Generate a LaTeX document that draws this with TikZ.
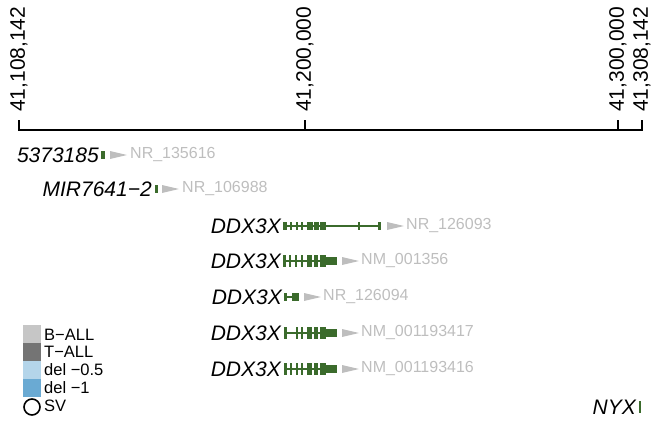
\documentclass[tikz,border=0pt]{standalone}
\usepackage{fontspec}
\setmainfont{Liberation Sans}
\definecolor{genegreen}{HTML}{3B6B2C}
\definecolor{txgrey}{HTML}{BEBEBE}
\definecolor{ballgrey}{HTML}{C6C6C6}
\definecolor{tallgrey}{HTML}{747474}
\definecolor{delhalf}{HTML}{B4D5EA}
\definecolor{delone}{HTML}{6AAAD3}
\tikzset{
  gene/.style={anchor=east,inner sep=1pt,font=\fontsize{21}{23}\selectfont\itshape},
  tx/.style={anchor=west,inner sep=0pt,text=txgrey,font=\fontsize{16}{18}\selectfont},
  ticklbl/.style={rotate=90,anchor=west,inner sep=0pt,font=\fontsize{21}{23}\selectfont},
  legtxt/.style={anchor=west,inner sep=0pt,font=\fontsize{16.5}{18}\selectfont},
  exon/.style={fill=genegreen},
  intron/.style={genegreen,line width=2.4pt},
  strand/.style={fill=txgrey}
}
\begin{document}
\begin{tikzpicture}[x=1pt,y=-1pt]
\useasboundingbox (0,0) rectangle (654,423);
%\draw[step=10pt,gray,very thin] (0,0) grid (654,423);
% axis
\draw[line width=1.3pt] (19,120) -- (19,130) -- (642,130) -- (642,120);
\draw[line width=1.3pt] (305,120) -- (305,130);
\draw[line width=1.3pt] (618,120) -- (618,130);
\node[ticklbl] (t1) at (19,112) {41,108,142};
\node[ticklbl] (t2) at (305,112) {41,200,000};
\node[ticklbl] (t3) at (618,112) {41,300,000};
\node[ticklbl] (t4) at (642,112) {41,308,142};
% 5373185
\node[gene] (g1) at (100,155) {5373185};
\fill[exon] (101,151) rectangle (105,159);
\fill[strand] (110,151) -- (127,155) -- (110,159) -- cycle;
\node[tx] (n1) at (130,155) {NR\_135616};
% MIR7641-2
\node[gene] (g2) at (153,189) {MIR7641−2};
\fill[exon] (155,185) rectangle (157.5,193);
\fill[strand] (162,185) -- (179,189) -- (162,193) -- cycle;
\node[tx] (n2) at (182,189) {NR\_106988};
% DDX3X NR_126093
\node[gene] (g3) at (282,226) {DDX3X};
\draw[intron] (283,226) -- (380,226);
\fill[exon] (283,222) rectangle (286.5,230);
\fill[exon] (290,222) rectangle (292,230);
\fill[exon] (296,222) rectangle (298,230);
\fill[exon] (301,222) rectangle (303,230);
\fill[exon] (307,222) rectangle (312.5,230);
\fill[exon] (314,222) rectangle (318.5,230);
\fill[exon] (320,222) rectangle (326,230);
\fill[exon] (358,222) rectangle (360,230);
\fill[exon] (378,222) rectangle (381,230);
\fill[strand] (387,222) -- (404,226) -- (387,230) -- cycle;
\node[tx] (n3) at (406,226) {NR\_126093};
% DDX3X NM_001356
\node[gene] (g4) at (282,261) {DDX3X};
\draw[intron] (283,261) -- (336,261);
\fill[exon] (283,255) rectangle (285.5,267);
\fill[exon] (288.5,255) rectangle (290.5,267);
\fill[exon] (294.5,255) rectangle (296.5,267);
\fill[exon] (300.5,255) rectangle (302.5,267);
\fill[exon] (307,255) rectangle (312,267);
\fill[exon] (313.5,255) rectangle (318,267);
\fill[exon] (319.5,255) rectangle (326,267);
\fill[exon] (326,257) rectangle (337,265);
\fill[strand] (342,257) -- (359,261) -- (342,265) -- cycle;
\node[tx] (n4) at (361,261) {NM\_001356};
% DDX3X NR_126094
\node[gene] (g5) at (283,297) {DDX3X};
\draw[intron] (284,297) -- (298,297);
\fill[exon] (284,293) rectangle (287,301);
\fill[exon] (292,293) rectangle (298.5,301);
\fill[strand] (304,293) -- (321,297) -- (304,301) -- cycle;
\node[tx] (n5) at (323,297) {NR\_126094};
% DDX3X NM_001193417
\node[gene] (g6) at (282,333) {DDX3X};
\draw[intron] (284,333) -- (336,333);
\fill[exon] (284,327) rectangle (286.5,339);
\fill[exon] (295.5,327) rectangle (297.5,339);
\fill[exon] (300.5,327) rectangle (302.5,339);
\fill[exon] (307,327) rectangle (312,339);
\fill[exon] (313.5,327) rectangle (318,339);
\fill[exon] (319.5,327) rectangle (326,339);
\fill[exon] (326,329) rectangle (337,337);
\fill[strand] (342,329) -- (359,333) -- (342,337) -- cycle;
\node[tx] (n6) at (361,333) {NM\_001193417};
% DDX3X NM_001193416
\node[gene] (g7) at (282,369) {DDX3X};
\draw[intron] (284,369) -- (336,369);
\fill[exon] (284,363) rectangle (286.5,375);
\fill[exon] (289.5,363) rectangle (291.5,375);
\fill[exon] (295.5,363) rectangle (297.5,375);
\fill[exon] (300.5,363) rectangle (302.5,375);
\fill[exon] (307,363) rectangle (312,375);
\fill[exon] (313.5,363) rectangle (318,375);
\fill[exon] (319.5,363) rectangle (326,375);
\fill[exon] (326,365) rectangle (337,373);
\fill[strand] (342,365) -- (359,369) -- (342,373) -- cycle;
\node[tx] (n7) at (361,369) {NM\_001193416};
% NYX
\node[gene] (g8) at (637,407) {NYX};
\fill[exon] (638.5,401) rectangle (641,413);
% legend
\fill[ballgrey] (23,325) rectangle (41,343);
\fill[tallgrey] (23,343) rectangle (41,361);
\fill[delhalf] (23,361) rectangle (41,379);
\fill[delone] (23,379) rectangle (41,397);
\draw[line width=1.6pt] (32,407) circle (8);
\node[legtxt] (l1) at (44,335) {B−ALL};
\node[legtxt] (l2) at (44,352) {T−ALL};
\node[legtxt] (l3) at (44,370) {del −0.5};
\node[legtxt] (l4) at (44,388) {del −1};
\node[legtxt] (l5) at (44,406) {SV};
\end{tikzpicture}
\end{document}
